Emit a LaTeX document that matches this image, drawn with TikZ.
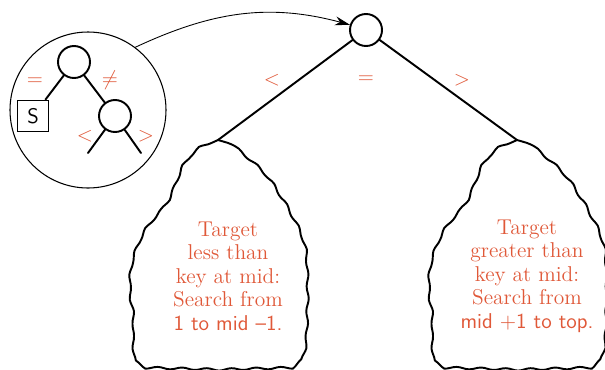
\documentclass[tikz,border=0pt]{standalone}
\usepackage{amsmath,amssymb}
\usetikzlibrary{arrows.meta,positioning,decorations.pathmorphing}
\definecolor{keyred}{RGB}{224,88,56}
\tikzset{
  keynode/.style={draw,circle,line width=1.1pt,minimum size=0.64cm,inner sep=0pt},
  cmplabel/.style={text=keyred,font=\large},
  cloudline/.style={line width=1.1pt,line join=round,decorate,decoration={snake,amplitude=0.6pt,segment length=14pt}},
  cloudtext/.style={text=keyred,align=center,font=\fontsize{12.2}{13.4}\selectfont}
}
\newcommand{\cloudoutline}{%
  (0,0) -- (-0.10,-0.03) -- (-0.20,-0.08) -- (-0.34,-0.16) -- (-0.48,-0.28) -- (-0.58,-0.42) -- (-0.66,-0.60) -- (-0.74,-0.82) -- (-0.84,-1.04) -- (-0.98,-1.24) -- (-1.16,-1.44) -- (-1.29,-1.61) -- (-1.41,-1.80) -- (-1.52,-2.00) -- (-1.60,-2.20) -- (-1.66,-2.40) -- (-1.69,-2.62) -- (-1.70,-2.88) -- (-1.68,-3.14) -- (-1.64,-3.36) -- (-1.63,-3.58) -- (-1.64,-3.80) -- (-1.63,-4.02) -- (-1.60,-4.30) -- (-1.54,-4.44) -- (-1.44,-4.50)
  -- (0.08,-4.54) -- (1.60,-4.50) -- (1.70,-4.42) -- (1.76,-4.20) -- (1.79,-3.90) -- (1.80,-3.55) -- (1.81,-3.20) -- (1.81,-2.80) -- (1.80,-2.40) -- (1.77,-2.10) -- (1.70,-1.84) -- (1.60,-1.60) -- (1.47,-1.36) -- (1.32,-1.12) -- (1.18,-0.90) -- (1.04,-0.72) -- (0.88,-0.56) -- (0.70,-0.40) -- (0.52,-0.25) -- (0.34,-0.13) -- (0.18,-0.05) -- (0,0)}
\begin{document}
\begin{tikzpicture}[line cap=round]
\clip (0,0) rectangle (12.1,7.38);
\fill[white] (0,0) rectangle (12.1,7.38);
% main comparison
\node[keynode] (top) at (7.32,6.78) {};
\coordinate (ltop) at (4.36,4.58);
\coordinate (rtop) at (10.34,4.58);
\draw[line width=1.1pt] (top)--(ltop);
\draw[line width=1.1pt] (top)--(rtop);
\node[cmplabel] (lt) at (5.44,5.78) {$<$};
\node[cmplabel] (eq) at (7.32,5.78) {$=$};
\node[cmplabel] (gt) at (9.24,5.78) {$>$};
% subtrees
\begin{scope}[shift={(4.36,4.58)}]
\draw[cloudline] \cloudoutline;
\end{scope}
\begin{scope}[shift={(10.34,4.58)}]
\draw[cloudline] \cloudoutline;
\end{scope}
\node[cloudtext] (ltext) at (4.56,1.86) {Target\\less than\\key at mid:\\Search from\\{\sffamily 1 to mid --1.}};
\node[cloudtext] (rtext) at (10.54,1.86) {Target\\greater than\\key at mid:\\Search from\\{\sffamily mid +1 to top.}};
% old two-way comparison
\node[draw,circle,line width=0.6pt,minimum size=3.12cm,inner sep=0pt] (zoom) at (1.76,5.18) {};
\node[keynode] (sroot) at (1.48,6.14) {};
\node[keynode] (schild) at (2.30,5.06) {};
\node[draw,line width=1.1pt,minimum size=0.62cm,inner sep=0pt,font=\sffamily\large] (sbox) at (0.66,5.06) {S};
\coordinate (lleaf) at (1.76,4.32);
\coordinate (rleaf) at (2.82,4.32);
\draw[line width=1.1pt] (sroot)--(sbox);
\draw[line width=1.1pt] (sroot)--(schild);
\draw[line width=1.1pt] (schild)--(lleaf);
\draw[line width=1.1pt] (schild)--(rleaf);
\node[cmplabel] (seq) at (0.70,5.74) {$=$};
\node[cmplabel] (sne) at (2.20,5.78) {$\neq$};
\node[cmplabel] (slt) at (1.70,4.66) {$<$};
\node[cmplabel] (sgt) at (2.92,4.66) {$>$};
\draw[-{Stealth[length=3mm,width=1.8mm]},line width=0.5pt] (zoom.53) to[out=25,in=165] (top.162);
\end{tikzpicture}
\end{document}
